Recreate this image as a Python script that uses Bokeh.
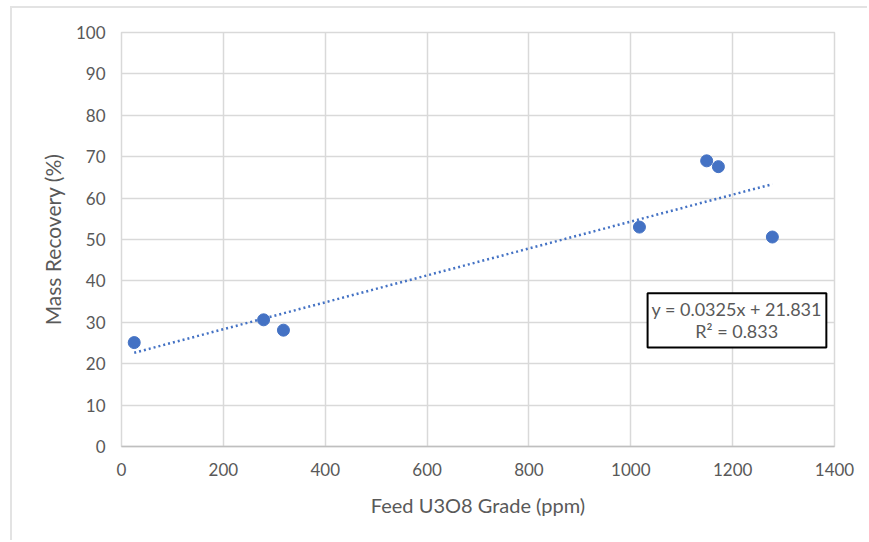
from bokeh.plotting import figure
from bokeh.models import Range1d, FixedTicker, BoxAnnotation, Label
from bokeh.embed import file_html
from bokeh.resources import INLINE

# Data
feed_grade = [25, 279, 318, 1017, 1149, 1172, 1278]
mass_recovery = [25.1, 30.6, 28.1, 53.0, 69.0, 67.6, 50.6]
slope = 0.0325
intercept = 21.831
r2 = 0.833
x_ticks = [0, 200, 400, 600, 800, 1000, 1200, 1400]
y_ticks = [0, 10, 20, 30, 40, 50, 60, 70, 80, 90, 100]

FONT = "Lato"
GRAY = "#595959"
BLUE = "#4472C4"
GRID = "#d9d9d9"

p = figure(width=857, height=534, output_backend="svg", toolbar_location=None,
           x_range=Range1d(0, 1400), y_range=Range1d(0, 100),
           min_border_left=109, min_border_right=35, min_border_top=24, min_border_bottom=96)
p.styles = {"border-left": "2px solid #e3e3e3", "border-top": "2px solid #e3e3e3",
            "margin-left": "10px", "margin-top": "6px"}

p.background_fill_color = "white"
p.border_fill_color = "white"
p.outline_line_color = GRID
p.outline_line_width = 1.5

p.xaxis.ticker = FixedTicker(ticks=x_ticks)
p.yaxis.ticker = FixedTicker(ticks=y_ticks)
p.xgrid.ticker = FixedTicker(ticks=x_ticks)
p.ygrid.ticker = FixedTicker(ticks=y_ticks)
p.xgrid.grid_line_color = GRID
p.ygrid.grid_line_color = GRID
p.xgrid.grid_line_width = 1.5
p.ygrid.grid_line_width = 1.5

for ax in (p.xaxis, p.yaxis):
    ax.major_tick_line_color = None
    ax.minor_tick_line_color = None
    ax.major_label_text_font = FONT
    ax.major_label_text_font_size = "17px"
    ax.major_label_text_color = GRAY
    ax.axis_label_text_font = FONT
    ax.axis_label_text_color = GRAY
    ax.axis_label_text_font_style = "normal"
    ax.major_label_standoff = 10

p.xaxis.axis_label_text_font_size = "20px"
p.yaxis.axis_label_text_font_size = "21px"
p.yaxis.axis_line_color = None
p.xaxis.axis_line_color = "#bfbfbf"
p.xaxis.axis_line_width = 1.5
p.xaxis.axis_label = "Feed U3O8 Grade (ppm)"
p.yaxis.axis_label = "Mass Recovery (%)"
p.xaxis.axis_label_standoff = 14
p.yaxis.axis_label_standoff = 8

# Trendline from the fitted equation
x0, x1 = min(feed_grade), max(feed_grade)
p.line([x0, x1], [slope * x0 + intercept, slope * x1 + intercept],
       line_color=BLUE, line_width=2.5, line_dash="2 3")

p.scatter(feed_grade, mass_recovery, size=12, fill_color=BLUE, line_color=BLUE)

# Equation box
p.add_layout(BoxAnnotation(left=1033, right=1384, bottom=23.9, top=37.0,
                           fill_color="white", fill_alpha=1.0,
                           line_color="black", line_alpha=1.0, line_width=2))
p.add_layout(Label(x=1208, y=33.3, text=f"y = {slope}x + {intercept}",
                   text_align="center", text_baseline="middle",
                   text_font=FONT, text_font_size="18px", text_color=GRAY))
p.add_layout(Label(x=1208, y=27.9, text=f"R² = {r2}",
                   text_align="center", text_baseline="middle",
                   text_font=FONT, text_font_size="18px", text_color=GRAY))

open("out.html", "w").write(file_html(p, INLINE))
